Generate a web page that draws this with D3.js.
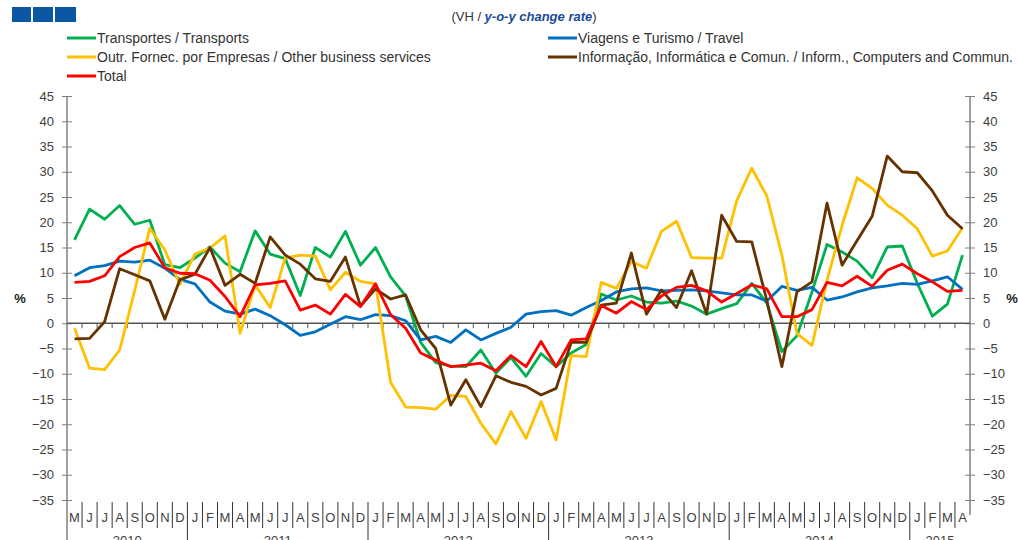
<!DOCTYPE html>
<meta charset="utf-8">
<html>
<head>
    <title>VH y-o-y change rate</title>
    <script type="text/javascript" src="https://cdn.jsdelivr.net/npm/d3@7"></script>
    <style type="text/css">
    	html, body {
    		padding: 0px;
    		margin: 0px;
    		background: #fff;
    	}
    	text {
    		font-family: "Liberation Sans", Arial, sans-serif;
    	}
    </style>
</head>
<body>
	<svg id="svg"></svg>
	<script type="text/javascript">
		// month letters, May 2010 .. Apr 2015
		var months = ["M","J","J","A","S","O","N","D",
		  "J","F","M","A","M","J","J","A","S","O","N","D",
		  "J","F","M","A","M","J","J","A","S","O","N","D",
		  "J","F","M","A","M","J","J","A","S","O","N","D",
		  "J","F","M","A","M","J","J","A","S","O","N","D",
		  "J","F","M","A"]
		var yearLabels = ["2010", "2011", "2012", "2013", "2014", "2015"]
		var yearMonths = [8, 12, 12, 12, 12, 4]
		var yTicks = [-35,-30,-25,-20,-15,-10,-5,0,5,10,15,20,25,30,35,40,45]

		// series values (%)
		var transportes = [16.5,22.6,20.6,23.3,19.6,20.4,11.6,11.0,12.9,15.1,
		  11.9,10.2,18.3,13.7,12.8,5.5,15.0,13.1,18.2,11.5,
		  15.0,9.2,5.4,-3.8,-7.8,-8.5,-8.6,-5.3,-9.9,-6.8,
		  -10.5,-6.0,-8.6,-5.9,-4.2,5.8,4.6,5.4,4.2,4.0,
		  4.4,3.4,1.8,2.9,3.9,7.9,4.0,-5.6,-2.5,6.2,
		  15.6,14.1,12.3,9.0,15.1,15.3,7.9,1.4,3.8,13.5]
		var viagens = [9.4,11.0,11.4,12.3,12.1,12.5,10.9,8.7,7.8,4.2,
		  2.4,1.8,2.8,1.5,-0.3,-2.4,-1.7,-0.2,1.3,0.7,
		  1.7,1.5,0.5,-3.3,-2.6,-3.8,-1.3,-3.3,-2.0,-0.8,
		  1.8,2.3,2.5,1.6,3.1,4.5,6.2,6.8,7.0,6.4,
		  6.5,6.6,6.4,6.0,5.6,5.6,4.4,7.3,6.5,7.1,
		  4.6,5.2,6.2,7.0,7.4,7.9,7.7,8.4,9.2,6.7]
		var outrServicos = [-1.0,-8.9,-9.2,-5.3,6.5,18.8,14.5,7.7,13.7,14.9,
		  17.3,-2.0,7.6,3.1,12.9,13.5,13.3,6.6,10.1,8.3,
		  7.8,-11.7,-16.6,-16.7,-17.0,-14.3,-14.5,-19.8,-23.9,-17.5,
		  -22.8,-15.5,-23.1,-6.4,-6.6,8.1,6.9,12.2,10.9,18.2,
		  20.2,13.0,12.9,12.9,24.3,30.7,25.2,13.5,-2.0,-4.4,
		  8.5,19.4,28.8,26.7,23.4,21.4,18.7,13.3,14.3,18.9]
		var informacao = [-3.1,-3.0,0.3,10.8,9.6,8.4,0.8,8.6,9.7,15.0,
		  7.5,9.7,7.9,17.1,13.5,11.7,8.8,8.3,13.1,3.4,
		  6.8,4.8,5.6,-1.3,-5.0,-16.2,-11.2,-16.5,-10.4,-11.7,
		  -12.5,-14.2,-12.9,-3.8,-3.8,3.6,4.0,13.9,1.8,6.6,
		  3.1,10.4,1.8,21.4,16.2,16.1,4.5,-8.6,6.2,8.2,
		  23.8,11.5,16.4,21.2,33.1,30.0,29.8,26.2,21.4,18.7]
		var total = [8.1,8.3,9.4,13.2,15.0,15.9,11.0,9.9,9.8,8.5,
		  5.3,1.3,7.6,7.9,8.4,2.6,3.6,1.8,5.7,3.3,
		  7.8,1.7,-1.0,-5.9,-7.3,-8.6,-8.3,-7.9,-9.4,-6.4,
		  -8.6,-3.6,-8.6,-3.3,-3.1,3.5,2.0,4.3,2.7,5.4,
		  7.1,7.5,6.4,4.2,5.9,7.6,6.8,1.3,1.3,2.7,
		  8.1,7.4,9.3,7.3,10.5,11.7,9.8,8.2,6.3,6.5]

		var series = [
		  { name: "Transportes / Transports", color: "#00b050", values: transportes },
		  { name: "Viagens e Turismo / Travel", color: "#0070c0", values: viagens },
		  { name: "Outr. Fornec. por Empresas / Other business services", color: "#ffc000", values: outrServicos },
		  { name: "Informação, Informática e Comun. / Inform., Computers and Commun.", color: "#663300", values: informacao },
		  { name: "Total", color: "#ff0000", values: total }
		]

		var width = 1018
		var height = 540
		var svg = d3.select('svg').attr('width', width).attr('height', height)

		var x = d3.scaleBand().domain(d3.range(months.length)).range([67, 970]).padding(0)
		var y = d3.scaleLinear().domain([-35, 45]).range([500, 96])
		var axisColor = "#808080"
		var textColor = "#404040"

		// header squares
		svg.append("g").selectAll("rect")
		  .data([[12, 19], [33, 20], [55, 21]])
		  .enter().append("rect")
		  .attr("x", function (d) { return d[0] })
		  .attr("y", 7).attr("width", function (d) { return d[1] }).attr("height", 15)
		  .attr("fill", "#0b57a3")

		// title
		var title = svg.append("text").attr("x", 524).attr("y", 21)
		  .attr("text-anchor", "middle").attr("font-size", 13).attr("fill", "#333")
		title.append("tspan").text("(VH / ")
		title.append("tspan").attr("font-weight", "bold").attr("font-style", "italic")
		  .attr("fill", "#174a96").text("y-o-y change rate")
		title.append("tspan").text(")")

		// legend
		var legendPos = [[67, 38], [548, 38], [67, 57], [548, 57], [67, 76]]
		var legend = svg.append("g").selectAll("g")
		  .data(series).enter().append("g")
		  .attr("transform", function (d, i) { return "translate(" + legendPos[i][0] + "," + legendPos[i][1] + ")" })
		legend.append("line").attr("x1", 0).attr("x2", 29).attr("y1", 0).attr("y2", 0)
		  .attr("stroke", function (d) { return d.color }).attr("stroke-width", 3)
		legend.append("text").attr("x", 30).attr("y", 5).attr("font-size", 14).attr("fill", "#333")
		  .text(function (d) { return d.name })

		// y axes
		var leftAxis = d3.axisLeft(y).tickValues(yTicks).tickSize(5).tickPadding(7)
		var rightAxis = d3.axisRight(y).tickValues(yTicks).tickSize(5).tickPadding(7)
		function styleAxis(g, dir) {
		  g.select(".domain").remove()
		  g.selectAll(".tick line").attr("stroke", axisColor).attr("x1", -5 * dir).attr("x2", 5 * dir)
		  g.selectAll(".tick text").attr("fill", textColor).attr("font-size", 13)
		    .attr("font-family", "Liberation Sans, Arial, sans-serif")
		    .attr("x", dir * 13)
		}
		var gl = svg.append("g").attr("transform", "translate(67,0)").call(leftAxis)
		styleAxis(gl, -1)
		var gr = svg.append("g").attr("transform", "translate(970,0)").call(rightAxis)
		styleAxis(gr, 1)
		svg.append("line").attr("x1", 67).attr("x2", 67).attr("y1", 96).attr("y2", 545)
		  .attr("stroke", axisColor).attr("stroke-width", 1.5)
		svg.append("line").attr("x1", 970).attr("x2", 970).attr("y1", 96).attr("y2", 515)
		  .attr("stroke", axisColor).attr("stroke-width", 1.5)

		svg.append("text").attr("x", 20).attr("y", 303).attr("text-anchor", "middle")
		  .attr("font-size", 13).attr("font-weight", "bold").attr("fill", "#222").text("%")
		svg.append("text").attr("x", 1012).attr("y", 303).attr("text-anchor", "middle")
		  .attr("font-size", 13).attr("font-weight", "bold").attr("fill", "#222").text("%")

		// zero line with month ticks
		svg.append("line").attr("x1", 67).attr("x2", 970).attr("y1", y(0)).attr("y2", y(0))
		  .attr("stroke", "#555").attr("stroke-width", 1.5)
		svg.append("g").selectAll("line")
		  .data(d3.range(1, months.length)).enter().append("line")
		  .attr("x1", function (i) { return x(i) }).attr("x2", function (i) { return x(i) })
		  .attr("y1", y(0)).attr("y2", y(0) + 5)
		  .attr("stroke", "#555").attr("stroke-width", 1)

		// bottom category labels
		var yearStart = [0]
		yearMonths.forEach(function (n, i) { yearStart.push(yearStart[i] + n) })
		svg.append("g").selectAll("line")
		  .data(d3.range(1, months.length)).enter().append("line")
		  .attr("x1", function (i) { return x(i) }).attr("x2", function (i) { return x(i) })
		  .attr("y1", 502)
		  .attr("y2", function (i) { return yearStart.indexOf(i) >= 0 ? 545 : 528 })
		  .attr("stroke", "#333").attr("stroke-width", 1)
		svg.append("g").selectAll("text")
		  .data(months).enter().append("text")
		  .attr("x", function (d, i) { return x(i) + x.bandwidth() / 2 })
		  .attr("y", 522).attr("text-anchor", "middle").attr("font-size", 13).attr("fill", textColor)
		  .text(function (d) { return d })
		// year labels sit at the bottom edge, partly cut as in the source picture
		svg.append("g").selectAll("text")
		  .data(yearLabels).enter().append("text")
		  .attr("x", function (d, i) {
		    var a = x(yearStart[i]), b = yearStart[i + 1] < months.length ? x(yearStart[i + 1]) : 970
		    return (a + b) / 2
		  })
		  .attr("y", 545).attr("text-anchor", "middle").attr("font-size", 13).attr("fill", textColor)
		  .text(function (d) { return d })

		// lines
		var line = d3.line()
		  .x(function (d, i) { return x(i) + x.bandwidth() / 2 })
		  .y(function (d) { return y(d) })
		svg.append("g").selectAll("path")
		  .data(series).enter().append("path")
		  .attr("d", function (s) { return line(s.values) })
		  .attr("fill", "none")
		  .attr("stroke", function (s) { return s.color })
		  .attr("stroke-width", 2.8)
		  .attr("stroke-linejoin", "round")
	</script>
</body>
</html>
